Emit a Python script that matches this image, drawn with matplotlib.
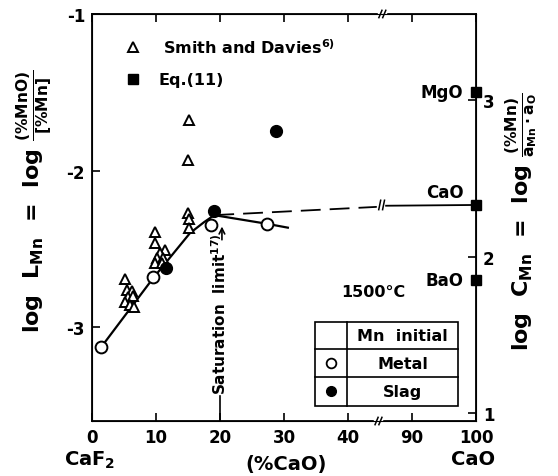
import numpy as np
import matplotlib
matplotlib.use('Agg')
import matplotlib.pyplot as plt
from matplotlib.patches import Rectangle

plt.rcParams['font.family'] = 'DejaVu Sans'
plt.rcParams['font.weight'] = 'bold'
plt.rcParams['mathtext.fontset'] = 'dejavusans'
plt.rcParams['mathtext.default'] = 'bf'

# broken CaO axis: 0-45 kept, 90-100 shifted left by 40
def tx(x):
    x = np.asarray(x, dtype=float)
    return np.where(x > 45, x - 40, x)

# Smith and Davies data
tri_x = [15.1, 15.0, 15.0, 15.2, 15.2,
         9.8, 9.8, 11.4, 10.6, 10.1, 11.1, 9.8, 10.9,
         5.2, 5.4, 6.2, 5.6, 6.4, 5.2, 6.0, 6.6]
tri_y = [-1.68, -1.93, -2.27, -2.31, -2.37,
         -2.39, -2.46, -2.51, -2.53, -2.56, -2.56, -2.59, -2.59,
         -2.69, -2.76, -2.77, -2.81, -2.80, -2.84, -2.86, -2.87]

# this work, Mn initially in metal / in slag
metal_x = [1.4, 9.5, 18.6, 27.3]
metal_y = [-3.13, -2.68, -2.35, -2.34]
slag_x = [11.6, 19.1, 28.75]
slag_y = [-2.62, -2.26, -1.75]

# fitted curve
fit_x = [1.4, 9.5, 15.3, 17.5, 19.1, 27.3, 30.6]
fit_y = [-3.13, -2.69, -2.40, -2.33, -2.285, -2.34, -2.365]

# Eq.(11) for pure oxides, log C_Mn
oxides = ['MgO', 'CaO', 'BaO']
oxide_C = [3.05, 2.33, 1.85]
offset = 4.55   # log C_Mn - log L_Mn

xticks = [0, 10, 20, 30, 40, 90, 100]

fig = plt.figure(figsize=(5.58, 4.77), dpi=100)
ax = fig.add_axes([0.1649, 0.1153, 0.6882, 0.8533])
ax.set_xlim(0, 60)
ax.set_ylim(-3.6, -1)

lw = 1.6
ax.plot(fit_x, fit_y, color='k', lw=lw, zorder=2)
cao_L = oxide_C[1] - offset
ax.plot([19.1, 44.6], [-2.285, cao_L - 0.012], color='k', lw=1.3,
        dashes=(11, 5), zorder=2)
ax.plot([45.6, 60], [cao_L - 0.005, cao_L], color='k', lw=1.3, zorder=2,
        clip_on=False)

ax.plot(tri_x, tri_y, ls='none', marker='^', ms=7.5, mfc='white',
        mec='k', mew=1.4, zorder=3)
ax.plot(metal_x, metal_y, ls='none', marker='o', ms=8.5, mfc='white',
        mec='k', mew=1.4, zorder=4)
ax.plot(slag_x, slag_y, ls='none', marker='o', ms=8.5, mfc='k',
        mec='k', zorder=4)

# saturation limit
ax.plot([20, 20], [-3.6, -3.44], color='k', lw=1.2)
ax.text(20.0, -3.43, 'Saturation  limit$^{17)}$', rotation=90,
        ha='center', va='bottom', fontsize=11)
ax.annotate('', xy=(20.3, -2.34), xytext=(20.3, -2.46),
            arrowprops=dict(arrowstyle='->', color='k', lw=1.2))

# axes styling
ax.set_xticks(tx(xticks))
ax.set_xticklabels([str(v) for v in xticks])
ax.set_yticks([-3, -2, -1])
ax.set_yticklabels(['-3', '-2', '-1'])
ax.tick_params(direction='in', length=6, width=1.2, labelsize=12,
               top=True, pad=5)
for s in ax.spines.values():
    s.set_linewidth(1.3)

ax2 = ax.twinx()
ax2.set_ylim(-3.6 + offset, -1 + offset)
ax2.set_yticks([1, 2, 3])
ax2.set_yticklabels(['1', '2', '3'])
ax2.tick_params(direction='in', length=6, width=1.2, labelsize=12, pad=5)
ax2.plot(np.full(3, 60.0), oxide_C, ls='none', marker='s', ms=6.5,
         color='k', clip_on=False, zorder=5)
for name, c in zip(oxides, oxide_C):
    dy = 9 if name == 'CaO' else 0
    ax2.annotate(name, (60, c), xytext=(-9, dy), textcoords='offset points',
                 ha='right', va='center', fontsize=12)

# axis breaks
for yb, xb in [(0, 0.735), (1, 0.745)]:
    ax.add_patch(Rectangle((xb, yb - 0.005), 0.02, 0.01,
                           transform=ax.transAxes, color='white',
                           clip_on=False, zorder=6))
    for dx in (xb + 0.002, xb + 0.012):
        ax.plot([dx, dx + 0.008], [yb - 0.009, yb + 0.009],
                transform=ax.transAxes, color='k', lw=1.1,
                clip_on=False, zorder=7)
ax.add_patch(Rectangle((44.6, cao_L - 0.03), 1.0, 0.06, color='white',
                       zorder=3))
for dx in (44.8, 45.4):
    ax.plot([dx, dx + 0.3], [cao_L - 0.03, cao_L + 0.03], color='k',
            lw=1.1, zorder=4)

# legend at top
ax.plot([0.107], [0.919], transform=ax.transAxes, marker='^', ms=7.5,
        mfc='white', mec='k', mew=1.4)
ax.text(0.185, 0.919, 'Smith and Davies$^{6)}$', transform=ax.transAxes,
        ha='left', va='center', fontsize=11.5)
ax.plot([0.107], [0.840], transform=ax.transAxes, marker='s', ms=7,
        color='k')
ax.text(0.172, 0.840, 'Eq.(11)', transform=ax.transAxes, ha='left',
        va='center', fontsize=11.5)

ax.text(0.732, 0.319, '1500°C', transform=ax.transAxes, ha='center',
        va='center', fontsize=11.5)

# Mn initial table
x0, x1, xm = 0.581, 0.953, 0.664
rows = [0.243, 0.177, 0.108, 0.037]
ax.add_patch(Rectangle((x0, rows[-1]), x1 - x0, rows[0] - rows[-1],
                       transform=ax.transAxes, fc='white', ec='k', lw=1.2,
                       zorder=6))
for r in rows[1:-1]:
    ax.plot([x0, x1], [r, r], transform=ax.transAxes, color='k', lw=1.2,
            zorder=7)
ax.plot([xm, xm], [rows[0], rows[-1]], transform=ax.transAxes, color='k',
        lw=1.2, zorder=7)
cells = ['Mn  initial', 'Metal', 'Slag']
for i, t in enumerate(cells):
    yc = (rows[i] + rows[i + 1]) / 2
    ax.text((xm + x1) / 2, yc, t, transform=ax.transAxes, ha='center',
            va='center', fontsize=11.5, zorder=8)
ax.plot([(x0 + xm) / 2], [(rows[1] + rows[2]) / 2], transform=ax.transAxes,
        marker='o', ms=7, mfc='white', mec='k', mew=1.3, zorder=8)
ax.plot([(x0 + xm) / 2], [(rows[2] + rows[3]) / 2], transform=ax.transAxes,
        marker='o', ms=7, color='k', zorder=8)

# axis titles
fig.text(35 / 558, 1 - 201 / 477,
         r'log  L$_{Mn}$  =  log $\frac{(\%MnO)}{[\%Mn]}$',
         rotation=90, ha='center', va='center', fontsize=16)
fig.text(522 / 558, 1 - 222 / 477,
         r'log  C$_{Mn}$  =  log $\frac{(\%Mn)}{a_{Mn}\cdot a_{O}}$',
         rotation=90, ha='center', va='center', fontsize=16)
fig.text(90 / 558, 1 - 460 / 477, 'CaF$_2$', ha='center', va='center',
         fontsize=14)
fig.text(286 / 558, 1 - 465 / 477, '(%CaO)', ha='center', va='center',
         fontsize=14)
fig.text(473 / 558, 1 - 460 / 477, 'CaO', ha='center', va='center',
         fontsize=14)

fig.savefig('out.png', dpi=100)
